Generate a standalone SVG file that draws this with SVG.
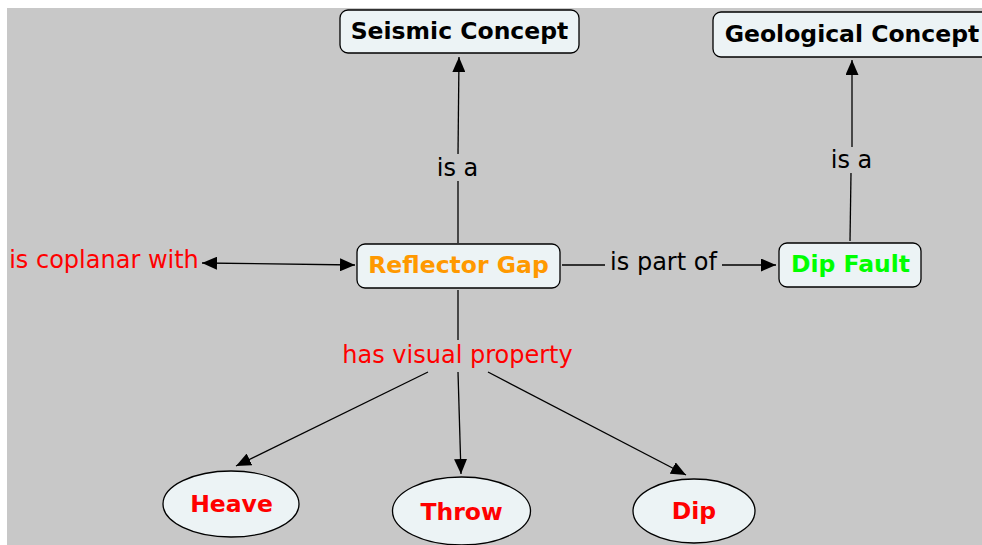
<svg xmlns="http://www.w3.org/2000/svg" width="982" height="545" viewBox="0 0 982 545">
<defs>
<marker id="arr" viewBox="0 0 15 13" refX="15" refY="6.5" markerWidth="15" markerHeight="13" markerUnits="userSpaceOnUse" orient="auto">
<path d="M0,0 L15,6.5 L0,13 Z" fill="#000"/>
</marker>
<marker id="arrs" viewBox="0 0 15 13" refX="0" refY="6.5" markerWidth="15" markerHeight="13" markerUnits="userSpaceOnUse" orient="auto">
<path d="M15,0 L0,6.5 L15,13 Z" fill="#000"/>
</marker>
</defs>
<style>
.node{fill:#ECF3F5;stroke:#000;stroke-width:1.3}
.nt{font-family:"DejaVu Sans",Verdana,sans-serif;font-weight:bold;font-size:23.5px;text-anchor:middle}
.lt{font-family:"DejaVu Sans",Verdana,sans-serif;font-size:24px;text-anchor:middle}
.c{stroke:#000;stroke-width:1.3;fill:none}
</style>
<rect x="0" y="0" width="982" height="545" fill="#fff"/>
<rect x="7" y="8" width="975" height="537" fill="#C8C8C8"/>
<g id="connectors">
<line class="c" x1="458" y1="243" x2="458" y2="181"/>
<line class="c" x1="458" y1="154" x2="459" y2="57" marker-end="url(#arr)"/>
<line class="c" x1="850" y1="241" x2="851" y2="173"/>
<line class="c" x1="852" y1="147" x2="852" y2="60" marker-end="url(#arr)"/>
<line class="c" x1="562" y1="265" x2="605" y2="265"/>
<line class="c" x1="722" y1="265" x2="776" y2="265" marker-end="url(#arr)"/>
<line class="c" x1="202" y1="263" x2="355" y2="265" marker-start="url(#arrs)" marker-end="url(#arr)"/>
<line class="c" x1="458" y1="290" x2="458" y2="340"/>
<line class="c" x1="428" y1="372" x2="236" y2="466" marker-end="url(#arr)"/>
<line class="c" x1="458" y1="372" x2="461" y2="474" marker-end="url(#arr)"/>
<line class="c" x1="488" y1="372" x2="686" y2="475" marker-end="url(#arr)"/>
</g>
<g id="label-isa-1"><text class="lt" x="457.5" y="176">is a</text></g>
<g id="label-isa-2"><text class="lt" x="851.5" y="168">is a</text></g>
<g id="label-ispartof"><text class="lt" x="663.5" y="270">is part of</text></g>
<g id="label-coplanar"><text class="lt" x="104" y="268" fill="#FF0000">is coplanar with</text></g>
<g id="label-hasvisual"><text class="lt" x="457.5" y="363" fill="#FF0000">has visual property</text></g>
<g id="seismic-concept">
<rect class="node" x="340" y="10" width="239" height="43" rx="8"/>
<text class="nt" x="459.5" y="39">Seismic Concept</text>
</g>
<g id="geological-concept">
<rect class="node" x="713" y="12" width="280" height="45" rx="8"/>
<text class="nt" x="852" y="42">Geological Concept</text>
</g>
<g id="reflector-gap">
<rect class="node" x="357" y="244" width="203" height="44" rx="8"/>
<text class="nt" x="458.5" y="273" fill="#FF9900">Reflector Gap</text>
</g>
<g id="dip-fault">
<rect class="node" x="779" y="243" width="142" height="44" rx="8"/>
<text class="nt" x="850.5" y="272" fill="#00FF00">Dip Fault</text>
</g>
<g id="heave">
<ellipse class="node" cx="231" cy="504" rx="68" ry="33"/>
<text class="nt" x="231.5" y="512" fill="#FF0000">Heave</text>
</g>
<g id="throw">
<ellipse class="node" cx="461.5" cy="511" rx="69" ry="34"/>
<text class="nt" x="461.5" y="520" fill="#FF0000">Throw</text>
</g>
<g id="dip">
<ellipse class="node" cx="694" cy="511" rx="61" ry="32"/>
<text class="nt" x="694" y="519" fill="#FF0000">Dip</text>
</g>
</svg>
